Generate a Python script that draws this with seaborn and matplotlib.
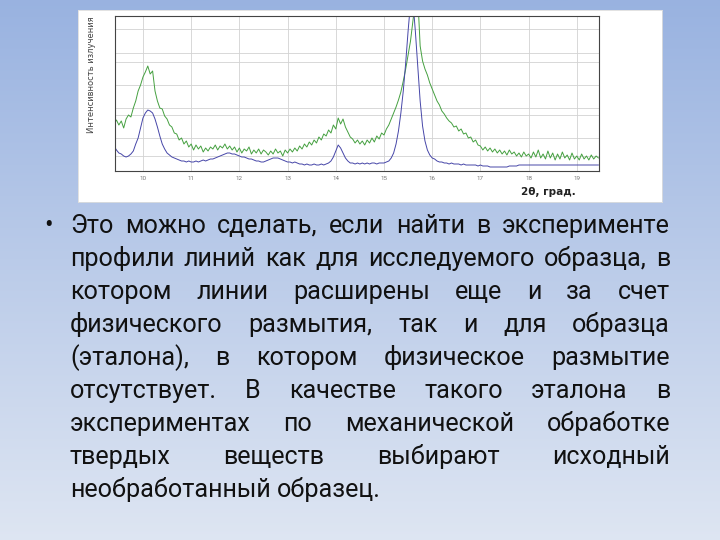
import numpy as np
import pandas as pd
import matplotlib
matplotlib.use('Agg')
import matplotlib.pyplot as plt
import seaborn as sns

# 2theta grid of the scan, degrees (step 0.05)
two_theta = np.round(9.40 + 0.05 * np.arange(202), 2)

# sample with physical broadening (green)
sample = [47, 51, 46, 50, 43, 52, 56, 54, 63, 70,
          80, 86, 94, 99, 105, 97, 100, 80, 70, 63,
          62, 55, 52, 46, 44, 38, 37, 31, 33, 27,
          30, 24, 27, 21, 26, 22, 25, 19, 23, 20,
          24, 22, 26, 21, 25, 23, 27, 22, 25, 21,
          24, 19, 23, 18, 22, 20, 24, 17, 21, 18,
          22, 17, 21, 19, 16, 20, 17, 22, 18, 20,
          15, 21, 18, 22, 19, 23, 20, 25, 22, 27,
          24, 29, 26, 31, 28, 34, 31, 37, 35, 41,
          38, 46, 42, 53, 47, 52, 44, 39, 34, 32,
          28, 31, 27, 30, 26, 31, 28, 33, 29, 35,
          32, 38, 36, 42, 46, 52, 58, 64, 71, 79,
          90, 102, 116, 130, 150, 170, 175, 125, 110, 102,
          96, 88, 82, 76, 70, 66, 60, 57, 53, 50,
          48, 44, 45, 40, 42, 37, 38, 33, 34, 29,
          31, 26, 25, 21, 24, 20, 23, 19, 22, 18,
          21, 17, 20, 16, 21, 17, 19, 15, 18, 14,
          19, 15, 17, 13, 19, 14, 21, 13, 17, 12,
          20, 13, 18, 11, 17, 12, 19, 13, 16, 11,
          18, 12, 15, 11, 17, 12, 15, 11, 16, 12,
          15, 13]

# reference (etalon) sample without physical broadening (blue)
etalon = [25, 21, 18, 17, 15, 14, 15, 17, 20, 27,
          33, 43, 53, 58, 61, 60, 58, 52, 44, 35,
          27, 22, 18, 16, 14, 13, 12, 11, 10, 10,
          9, 10, 9, 9, 10, 9, 10, 11, 10, 11,
          12, 12, 13, 14, 15, 16, 17, 18, 18, 17,
          17, 16, 15, 14, 14, 13, 12, 12, 11, 10,
          10, 9, 9, 10, 11, 12, 13, 13, 13, 12,
          11, 10, 9, 9, 8, 9, 8, 7, 7, 6,
          7, 6, 6, 7, 6, 6, 7, 6, 7, 8,
          10, 14, 20, 26, 23, 18, 13, 10, 8, 8,
          7, 8, 7, 8, 7, 8, 7, 8, 8, 7,
          8, 8, 8, 9, 10, 13, 18, 27, 40, 58,
          80, 108, 140, 168, 170, 140, 105, 70, 45, 30,
          21, 16, 13, 12, 10, 9, 9, 8, 8, 7,
          8, 7, 7, 7, 6, 7, 6, 6, 6, 6,
          6, 5, 6, 5, 5, 5, 4, 4, 4, 4,
          4, 4, 4, 4, 5, 5, 5, 5, 6, 6,
          6, 6, 6, 6, 6, 6, 6, 6, 6, 6,
          6, 6, 6, 6, 6, 6, 6, 6, 6, 6,
          6, 6, 6, 6, 6, 6, 6, 6, 6, 6,
          6, 6]

x_ticks = list(range(10, 20))
grid_levels = [15, 33, 56, 63, 86, 109, 118, 142]

lines = [
    "Это можно сделать, если найти в эксперименте",
    "профили линий как для исследуемого образца, в",
    "котором линии расширены еще и за счет",
    "физического размытия, так и для образца",
    "(эталона), в котором физическое размытие",
    "отсутствует. В качестве такого эталона в",
    "экспериментах по механической обработке",
    "твердых веществ выбирают исходный",
    "необработанный образец.",
]

df = pd.concat([
    pd.DataFrame({'two_theta': two_theta, 'intensity': sample, 'series': 'sample'}),
    pd.DataFrame({'two_theta': two_theta, 'intensity': etalon, 'series': 'etalon'}),
])

sns.set_style('white')
plt.rcParams['font.family'] = ['Roboto', 'DejaVu Sans']

W, H = 720, 540
fig = plt.figure(figsize=(7.2, 5.4), dpi=100)

# slide background gradient
bg = fig.add_axes([0, 0, 1, 1])
top = np.array([0.60, 0.70, 0.88])
bot = np.array([0.87, 0.90, 0.95])
t = np.linspace(0, 1, 256)[:, None]
grad = top + (bot - top) * t
bg.imshow(grad[:, None, :].repeat(2, axis=1), aspect='auto', extent=[0, 1, 0, 1])
bg.axis('off')

# white picture box
box = fig.add_axes([78 / W, 1 - 202 / H, 584 / W, 192 / H])
box.set_facecolor('white')
box.set_xticks([])
box.set_yticks([])
for s in box.spines.values():
    s.set_color('#dddddd')
    s.set_linewidth(0.6)

ax = fig.add_axes([115 / W, 1 - 171 / H, 484 / W, 155 / H])
ax.set_facecolor('white')
sns.lineplot(data=df, x='two_theta', y='intensity', hue='series',
             palette={'sample': '#45a040', 'etalon': '#4646a8'},
             linewidth=0.7, legend=False, ax=ax)
ax.set_xlim(9.42, 19.46)
ax.set_ylim(0, 155)
ax.set_xticks(x_ticks)
ax.set_xticklabels([str(v) for v in x_ticks], fontsize=4.5, color='#777777')
ax.set_yticks(grid_levels)
ax.set_yticklabels([])
ax.tick_params(axis='both', length=2, width=0.5, color='#555555', pad=1.5)
ax.grid(True, color='#d2d2d2', linewidth=0.6)
ax.set_axisbelow(True)
for s in ax.spines.values():
    s.set_color('#444444')
    s.set_linewidth(0.8)
ax.set_xlabel('')
ax.set_ylabel('Интенсивность излучения', fontsize=6, color='#444444',
              family=['DejaVu Sans'])
ax.yaxis.set_label_coords(-0.04, 0.62)

fig.text(548 / W, 1 - 192 / H, '2θ, град.', ha='center', va='center',
         fontsize=7.5, weight='bold', color='#222222', family=['DejaVu Sans'])

# justified body text
renderer = fig.canvas.get_renderer()
probe = fig.text(0, 0, lines[-1], fontsize=15)
fs = 15 * 313 / probe.get_window_extent(renderer=renderer).width
probe.remove()

x0, x1 = 70, 670
y_first, step = 233, 33
fig.text(44 / W, 1 - y_first / H, '•', fontsize=fs, color='#111111', va='baseline')
for i, line in enumerate(lines):
    yb = 1 - (y_first + i * step) / H
    words = line.split()
    objs = [fig.text(0, yb, w, fontsize=fs, color='#111111', va='baseline') for w in words]
    widths = [o.get_window_extent(renderer=renderer).width for o in objs]
    if i < len(lines) - 1:
        gap = (x1 - x0 - sum(widths)) / (len(words) - 1)
    else:
        gap = fs * 100 / 72 * 0.25
    x = x0
    for o, w in zip(objs, widths):
        o.set_x(x / W)
        x += w + gap

fig.savefig('out.png', dpi=100)
